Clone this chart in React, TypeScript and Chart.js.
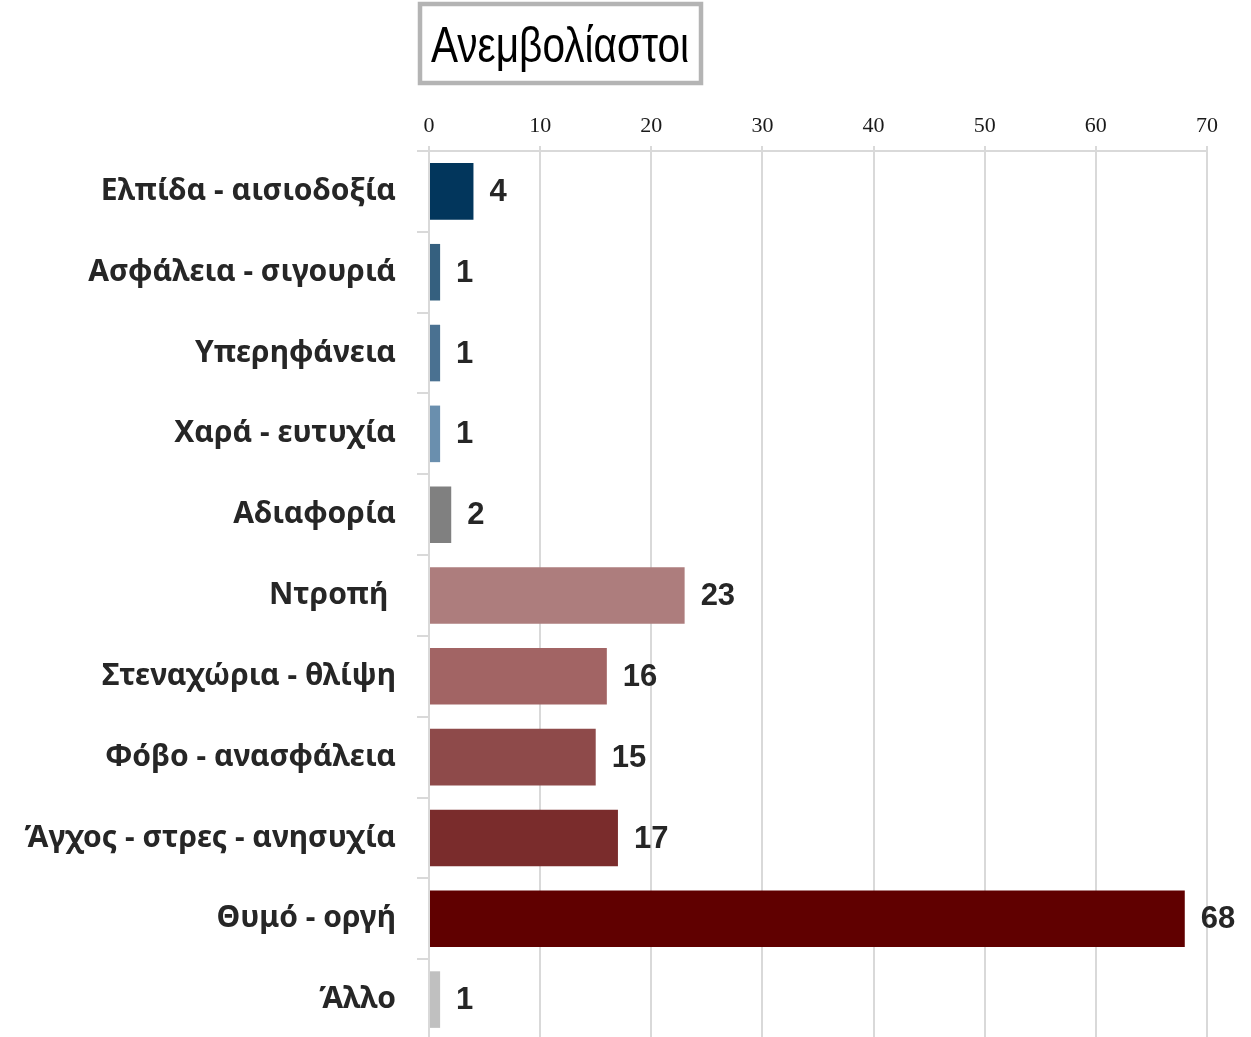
import React, { useEffect, useRef } from "react";
import { Chart, registerables } from "chart.js";

Chart.register(...registerables);

const TITLE = "Ανεμβολίαστοι";
const categories = [
  "Ελπίδα - αισιοδοξία",
  "Ασφάλεια - σιγουριά",
  "Υπερηφάνεια",
  "Χαρά - ευτυχία",
  "Αδιαφορία",
  "Ντροπή ",
  "Στεναχώρια - θλίψη",
  "Φόβο - ανασφάλεια",
  "Άγχος - στρες - ανησυχία",
  "Θυμό - οργή",
  "Άλλο",
];
const values = [4, 1, 1, 1, 2, 23, 16, 15, 17, 68, 1];
const barColors = [
  "#02365c",
  "#35607f",
  "#4a7191",
  "#6a8fae",
  "#808080",
  "#ad7d7d",
  "#a26464",
  "#8e4a4a",
  "#7a2c2c",
  "#600000",
  "#c0c0c0",
];
const xTicks = [0, 10, 20, 30, 40, 50, 60, 70];

const titlePlugin = {
  id: "boxTitle",
  afterDraw(chart: any) {
    const ctx = chart.ctx;
    ctx.save();
    ctx.strokeStyle = "#b4b4b4";
    ctx.lineWidth = 4.5;
    ctx.strokeRect(420, 4, 281, 79);
    ctx.font = "50px 'Liberation Sans', Arial, sans-serif";
    const w = ctx.measureText(TITLE).width;
    const sx = 258 / w;
    ctx.translate(560, 62);
    ctx.scale(sx, 1);
    ctx.fillStyle = "#000";
    ctx.textAlign = "center";
    ctx.textBaseline = "alphabetic";
    ctx.fillText(TITLE, 0, 0);
    ctx.restore();
  },
};

const valueLabelPlugin = {
  id: "valueLabels",
  afterDatasetsDraw(chart: any) {
    const ctx = chart.ctx;
    const meta = chart.getDatasetMeta(0);
    ctx.save();
    ctx.font = "bold 31px 'Liberation Sans', Arial, sans-serif";
    ctx.fillStyle = "#262626";
    ctx.textAlign = "left";
    ctx.textBaseline = "middle";
    meta.data.forEach((bar: any, i: number) => {
      ctx.fillText(String(values[i]), bar.x + 16, bar.y + 1);
    });
    ctx.restore();
  },
};

export default function App() {
  const ref = useRef<HTMLCanvasElement>(null);
  useEffect(() => {
    if (!ref.current) return;
    const chart = new Chart(ref.current, {
      type: "bar",
      data: {
        labels: categories,
        datasets: [
          {
            data: values,
            backgroundColor: barColors,
            barPercentage: 0.7,
            categoryPercentage: 1,
          },
        ],
      },
      options: {
        indexAxis: "y",
        animation: false,
        responsive: false,
        maintainAspectRatio: false,
        layout: { padding: { top: 101, right: 44, left: 0, bottom: 0 } },
        plugins: { legend: { display: false }, tooltip: { enabled: false }, title: { display: false } },
        scales: {
          x: {
            position: "top",
            min: 0,
            max: 70,
            afterBuildTicks(scale: any) {
              scale.ticks = xTicks.map((v) => ({ value: v }));
            },
            afterFit(scale: any) {
              scale.height = 50;
              scale.paddingLeft = 0;
              scale.paddingRight = 0;
            },
            ticks: {
              color: "#1a1a1a",
              font: { family: "'Liberation Serif', 'Times New Roman', serif", size: 22 },
              padding: 7,
            },
            grid: { color: "#d9d9d9", lineWidth: 2, tickLength: 5 },
            border: { color: "#d9d9d9", width: 2 },
          },
          y: {
            afterFit(scale: any) {
              scale.width = 429;
              scale.paddingTop = 0;
              scale.paddingBottom = 0;
            },
            ticks: {
              color: "#262626",
              font: { family: "'Noto Sans', 'Liberation Sans', sans-serif", size: 30, weight: "bold" },
              padding: 21,
            },
            grid: { drawOnChartArea: false, color: "#d9d9d9", lineWidth: 2, tickLength: 12, offset: true },
            border: { color: "#d9d9d9", width: 2 },
          },
        },
      },
      plugins: [titlePlugin, valueLabelPlugin],
    } as any);
    return () => chart.destroy();
  }, []);
  return (
    <div style={{ position: "absolute", left: 0, top: 0, width: 1251, height: 1040 }}>
      <canvas ref={ref} width={1251} height={1040} style={{ width: 1251, height: 1040 }} />
    </div>
  );
}
